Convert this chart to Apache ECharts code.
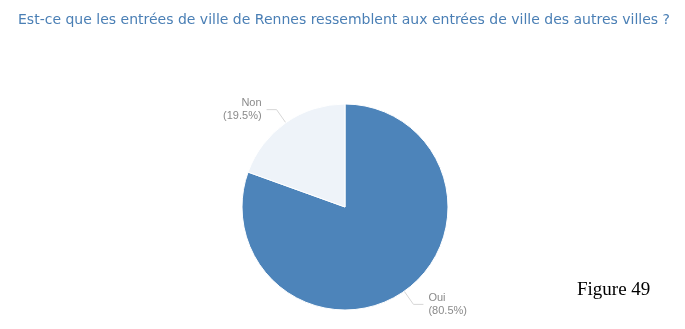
<!DOCTYPE html>
<html>
<head>
<meta charset="utf-8">
<script src="https://cdn.jsdelivr.net/npm/echarts@6/dist/echarts.min.js"></script>
<style>
  html, body { margin: 0; padding: 0; background: #fff; }
  #chart { width: 685px; height: 329px; }
</style>
</head>
<body>
<div id="chart"></div>
<script>
const titleText = "Est-ce que les entrées de ville de Rennes ressemblent aux entrées de ville des autres villes ?";
const answers = ["Oui", "Non"];
const shares = [80.5, 19.5];
const sliceColors = ["#4d84ba", "#eef3f9"];

const chart = echarts.init(document.getElementById("chart"));

const pieData = answers.map((name, i) => ({
  name: name,
  value: shares[i],
  itemStyle: { color: sliceColors[i] },
}));

chart.setOption({
  animation: false,
  title: {
    text: titleText,
    left: 13,
    top: 8,
    textStyle: {
      fontFamily: "DejaVu Sans",
      fontSize: 14,
      fontWeight: "normal",
      color: "#4a7fb5",
    },
  },
  graphic: [
    {
      type: "text",
      left: 577,
      top: 281,
      style: {
        text: "Figure 49",
        font: "19px 'Liberation Serif'",
        fill: "#000",
      },
    },
  ],
  series: [
    {
      type: "pie",
      radius: 103,
      center: [345, 207],
      startAngle: 90,
      data: pieData,
      itemStyle: { borderColor: "#fff", borderWidth: 1 },
      label: {
        formatter: (p) => `${p.name}\n(${p.value.toFixed(1)}%)`,
        fontFamily: "Liberation Sans",
        fontSize: 11,
        color: "#8a8a8a",
        lineHeight: 13,
      },
      labelLine: {
        length: 16,
        length2: 10,
        lineStyle: { color: "#d6d6d6", width: 1 },
      },
    },
  ],
});
</script>
</body>
</html>
